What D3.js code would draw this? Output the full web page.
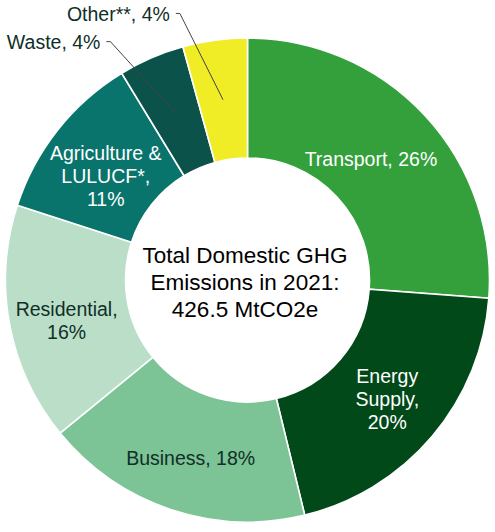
<!DOCTYPE html>
<html>
<head>
<meta charset="utf-8">
<script src="https://d3js.org/d3.v7.min.js"></script>
<style>
  body { margin: 0; background: #fff; }
  text { font-family: "Liberation Sans", Arial, sans-serif; }
</style>
</head>
<body>
<svg id="chart" width="495" height="532"></svg>
<script>
// sectors, clockwise from 12 o'clock
var sectors = ["Transport", "Energy Supply", "Business", "Residential", "Agriculture & LULUCF*", "Waste", "Other**"]
var shares = [26.2, 20.0, 17.9, 15.9, 11.3, 4.4, 4.3]
var shareLabels = ["26%", "20%", "18%", "16%", "11%", "4%", "4%"]
// how each label is broken into lines
var labelLines = [
  ["Transport, 26%"],
  ["Energy", "Supply,", "20%"],
  ["Business, 18%"],
  ["Residential,", "16%"],
  ["Agriculture &", "LULUCF*,", "11%"],
  ["Waste, 4%"],
  ["Other**, 4%"]
]
var centreLines = ["Total Domestic GHG", "Emissions in 2021:", "426.5 MtCO2e"]

var colours = ["#33a03b", "#02491a", "#7cc395", "#badec7", "#08746c", "#0a524a", "#f0ec26"]
var textColours = ["#fff", "#fff", "#102f28", "#102f28", "#fff", "#102f28", "#102f28"]
var outside = [false, false, false, false, false, true, true]

var cx = 247.5, cy = 280, rOuter = 242, rInner = 122

var data = sectors.map(function(s, i) { return {name: s, value: shares[i], i: i} })

var svg = d3.select("#chart")
var g = svg.append("g").attr("transform", "translate(" + cx + "," + cy + ")")

var pie = d3.pie().sort(null).value(function(d) { return d.value })
var arcs = pie(data)
var arc = d3.arc().innerRadius(rInner).outerRadius(rOuter)
var midArc = d3.arc().innerRadius(182).outerRadius(182)

g.selectAll("path.slice").data(arcs).enter().append("path")
  .attr("class", "slice")
  .attr("d", arc)
  .attr("fill", function(d) { return colours[d.data.i] })
  .attr("stroke", "#fff")
  .attr("stroke-width", 1.6)

// labels inside the ring, small nudges off the centroid
var nudges = [[-10, 3], [1, 1], [1, 5], [-2, 7], [1, 9]]
var lh = 23
arcs.filter(function(d) { return !outside[d.data.i] }).forEach(function(d) {
  var c = midArc.centroid(d)
  var lines = labelLines[d.data.i]
  var nd = nudges[d.data.i]
  var t = g.append("text")
    .attr("text-anchor", "middle")
    .attr("font-size", 19.5)
    .attr("fill", textColours[d.data.i])
  lines.forEach(function(line, k) {
    t.append("tspan")
      .attr("x", c[0] + nd[0])
      .attr("y", c[1] + nd[1] + 7 + (k - (lines.length - 1) / 2) * lh)
      .text(line)
  })
})

// small slices: leader lines to labels above the ring
function polar(r, a) { return [r * Math.sin(a), -r * Math.cos(a)] }
arcs.filter(function(d) { return outside[d.data.i] }).forEach(function(d) {
  var mid = (d.startAngle + d.endAngle) / 2
  var p0 = midArc.centroid(d)
  var p1 = polar(275, mid - 6.5 * Math.PI / 180)
  var p2 = [p1[0] - 4, p1[1]]
  g.append("polyline")
    .attr("points", [p0, p1, p2].map(function(p) { return p.join(",") }).join(" "))
    .attr("fill", "none")
    .attr("stroke", "#444")
    .attr("stroke-width", 1)
  g.append("text")
    .attr("x", p2[0] - 6)
    .attr("y", p2[1] + 7.5)
    .attr("text-anchor", "end")
    .attr("font-size", 19.5)
    .attr("fill", textColours[d.data.i])
    .text(labelLines[d.data.i][0])
})

// centre text
var ct = g.append("text").attr("text-anchor", "middle").attr("font-size", 22.5).attr("fill", "#000")
centreLines.forEach(function(line, k) {
  ct.append("tspan").attr("x", -2.5).attr("y", -17 + k * 27).text(line)
})
</script>
</body>
</html>
